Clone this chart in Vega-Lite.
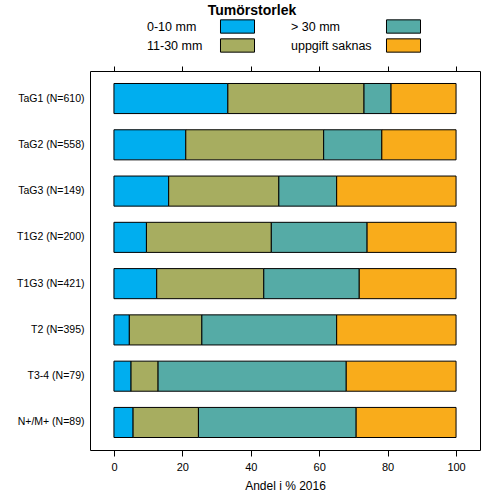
{
  "$schema": "https://vega.github.io/schema/vega-lite/v6.json",
  "width": 390,
  "height": 379,
  "autosize": "none",
  "padding": {"left": 90, "top": 71, "right": 24, "bottom": 54},
  "title": {"text": "Tumörstorlek", "anchor": "middle", "dx": -33, "fontSize": 14, "fontWeight": "bold", "font": "Liberation Sans", "color": "black", "offset": 1},
  "data": {"values": [
    {"grupp": "TaG1 (N=610)", "kategori": "0-10 mm", "ordning": 1, "andel": 33.3},
    {"grupp": "TaG1 (N=610)", "kategori": "11-30 mm", "ordning": 2, "andel": 39.8},
    {"grupp": "TaG1 (N=610)", "kategori": "> 30 mm", "ordning": 3, "andel": 7.9},
    {"grupp": "TaG1 (N=610)", "kategori": "uppgift saknas", "ordning": 4, "andel": 19.0},
    {"grupp": "TaG2 (N=558)", "kategori": "0-10 mm", "ordning": 1, "andel": 21.0},
    {"grupp": "TaG2 (N=558)", "kategori": "11-30 mm", "ordning": 2, "andel": 40.3},
    {"grupp": "TaG2 (N=558)", "kategori": "> 30 mm", "ordning": 3, "andel": 17.0},
    {"grupp": "TaG2 (N=558)", "kategori": "uppgift saknas", "ordning": 4, "andel": 21.7},
    {"grupp": "TaG3 (N=149)", "kategori": "0-10 mm", "ordning": 1, "andel": 16.0},
    {"grupp": "TaG3 (N=149)", "kategori": "11-30 mm", "ordning": 2, "andel": 32.2},
    {"grupp": "TaG3 (N=149)", "kategori": "> 30 mm", "ordning": 3, "andel": 16.9},
    {"grupp": "TaG3 (N=149)", "kategori": "uppgift saknas", "ordning": 4, "andel": 34.9},
    {"grupp": "T1G2 (N=200)", "kategori": "0-10 mm", "ordning": 1, "andel": 9.5},
    {"grupp": "T1G2 (N=200)", "kategori": "11-30 mm", "ordning": 2, "andel": 36.5},
    {"grupp": "T1G2 (N=200)", "kategori": "> 30 mm", "ordning": 3, "andel": 28.0},
    {"grupp": "T1G2 (N=200)", "kategori": "uppgift saknas", "ordning": 4, "andel": 26.0},
    {"grupp": "T1G3 (N=421)", "kategori": "0-10 mm", "ordning": 1, "andel": 12.5},
    {"grupp": "T1G3 (N=421)", "kategori": "11-30 mm", "ordning": 2, "andel": 31.3},
    {"grupp": "T1G3 (N=421)", "kategori": "> 30 mm", "ordning": 3, "andel": 27.9},
    {"grupp": "T1G3 (N=421)", "kategori": "uppgift saknas", "ordning": 4, "andel": 28.3},
    {"grupp": "T2 (N=395)", "kategori": "0-10 mm", "ordning": 1, "andel": 4.5},
    {"grupp": "T2 (N=395)", "kategori": "11-30 mm", "ordning": 2, "andel": 21.2},
    {"grupp": "T2 (N=395)", "kategori": "> 30 mm", "ordning": 3, "andel": 39.4},
    {"grupp": "T2 (N=395)", "kategori": "uppgift saknas", "ordning": 4, "andel": 34.9},
    {"grupp": "T3-4 (N=79)", "kategori": "0-10 mm", "ordning": 1, "andel": 5.0},
    {"grupp": "T3-4 (N=79)", "kategori": "11-30 mm", "ordning": 2, "andel": 7.9},
    {"grupp": "T3-4 (N=79)", "kategori": "> 30 mm", "ordning": 3, "andel": 55.0},
    {"grupp": "T3-4 (N=79)", "kategori": "uppgift saknas", "ordning": 4, "andel": 32.1},
    {"grupp": "N+/M+ (N=89)", "kategori": "0-10 mm", "ordning": 1, "andel": 5.6},
    {"grupp": "N+/M+ (N=89)", "kategori": "11-30 mm", "ordning": 2, "andel": 19.1},
    {"grupp": "N+/M+ (N=89)", "kategori": "> 30 mm", "ordning": 3, "andel": 46.1},
    {"grupp": "N+/M+ (N=89)", "kategori": "uppgift saknas", "ordning": 4, "andel": 29.2}
  ]},
  "transform": [
    {"stack": "andel", "groupby": ["grupp"], "sort": [{"field": "ordning", "order": "ascending"}], "as": ["x0", "x1"]}
  ],
  "encoding": {
    "y": {
      "field": "grupp", "type": "nominal",
      "sort": ["TaG1 (N=610)", "TaG2 (N=558)", "TaG3 (N=149)", "T1G2 (N=200)", "T1G3 (N=421)", "T2 (N=395)", "T3-4 (N=79)", "N+/M+ (N=89)"],
      "scale": {"paddingInner": 0.35, "paddingOuter": 0.27},
      "axis": {"title": null, "ticks": false, "domain": false, "labelFontSize": 10.5, "labelPadding": 6, "labelColor": "black", "labelFont": "Liberation Sans"}
    }
  },
  "layer": [
    {
      "transform": [{"filter": "datum.ordning <= 2"}],
      "mark": {"type": "bar", "stroke": "black", "strokeWidth": 1},
      "encoding": {
        "x": {"field": "x0", "type": "quantitative",
          "scale": {"domain": [-7, 107], "nice": false, "zero": false},
          "axis": {"orient": "bottom", "values": [0, 20, 40, 60, 80, 100], "tickSize": 6, "tickColor": "black", "domain": false, "grid": false,
            "labelFontSize": 11, "labelColor": "black", "labelFont": "Liberation Sans", "labelPadding": 5,
            "title": "Andel i % 2016", "titleFontSize": 12, "titleFontWeight": "normal", "titleColor": "black", "titleFont": "Liberation Sans", "titlePadding": 8}},
        "x2": {"field": "x1"},
        "color": {"field": "kategori", "type": "nominal",
          "scale": {"domain": ["0-10 mm", "11-30 mm"], "range": ["#00AEEF", "#A7AD60"]},
          "legend": {"orient": "none", "legendX": 56, "legendY": -52, "direction": "vertical", "title": null,
            "symbolType": "M-2.556,-1H2.556V1H-2.556Z", "symbolSize": 177, "symbolStrokeColor": "black", "symbolStrokeWidth": 1, "symbolOpacity": 1,
            "symbolOffset": 84, "labelOffset": -98, "rowPadding": 0, "labelFontSize": 12.5, "labelColor": "black", "labelFont": "Liberation Sans"}}
      }
    },
    {
      "transform": [{"filter": "datum.ordning >= 3"}],
      "mark": {"type": "bar", "stroke": "black", "strokeWidth": 1},
      "encoding": {
        "x": {"field": "x0", "type": "quantitative",
          "scale": {"domain": [-7, 107], "nice": false, "zero": false},
          "axis": {"orient": "top", "values": [0, 20, 40, 60, 80, 100], "tickSize": 5, "tickColor": "black", "domain": false, "grid": false, "labels": false, "title": null}},
        "x2": {"field": "x1"},
        "fill": {"field": "kategori", "type": "nominal",
          "scale": {"domain": ["> 30 mm", "uppgift saknas"], "range": ["#55ABA6", "#F9AC1B"]},
          "legend": {"orient": "none", "legendX": 200, "legendY": -52, "direction": "vertical", "title": null,
            "symbolType": "M-2.556,-1H2.556V1H-2.556Z", "symbolSize": 177, "symbolStrokeColor": "black", "symbolStrokeWidth": 1, "symbolOpacity": 1,
            "symbolOffset": 106, "labelOffset": -120, "rowPadding": 0, "labelFontSize": 12.5, "labelColor": "black", "labelFont": "Liberation Sans"}}
      }
    }
  ],
  "resolve": {"scale": {"x": "independent"}},
  "config": {
    "view": {"stroke": "black", "strokeWidth": 1},
    "font": "Liberation Sans",
    "background": "white"
  }
}
